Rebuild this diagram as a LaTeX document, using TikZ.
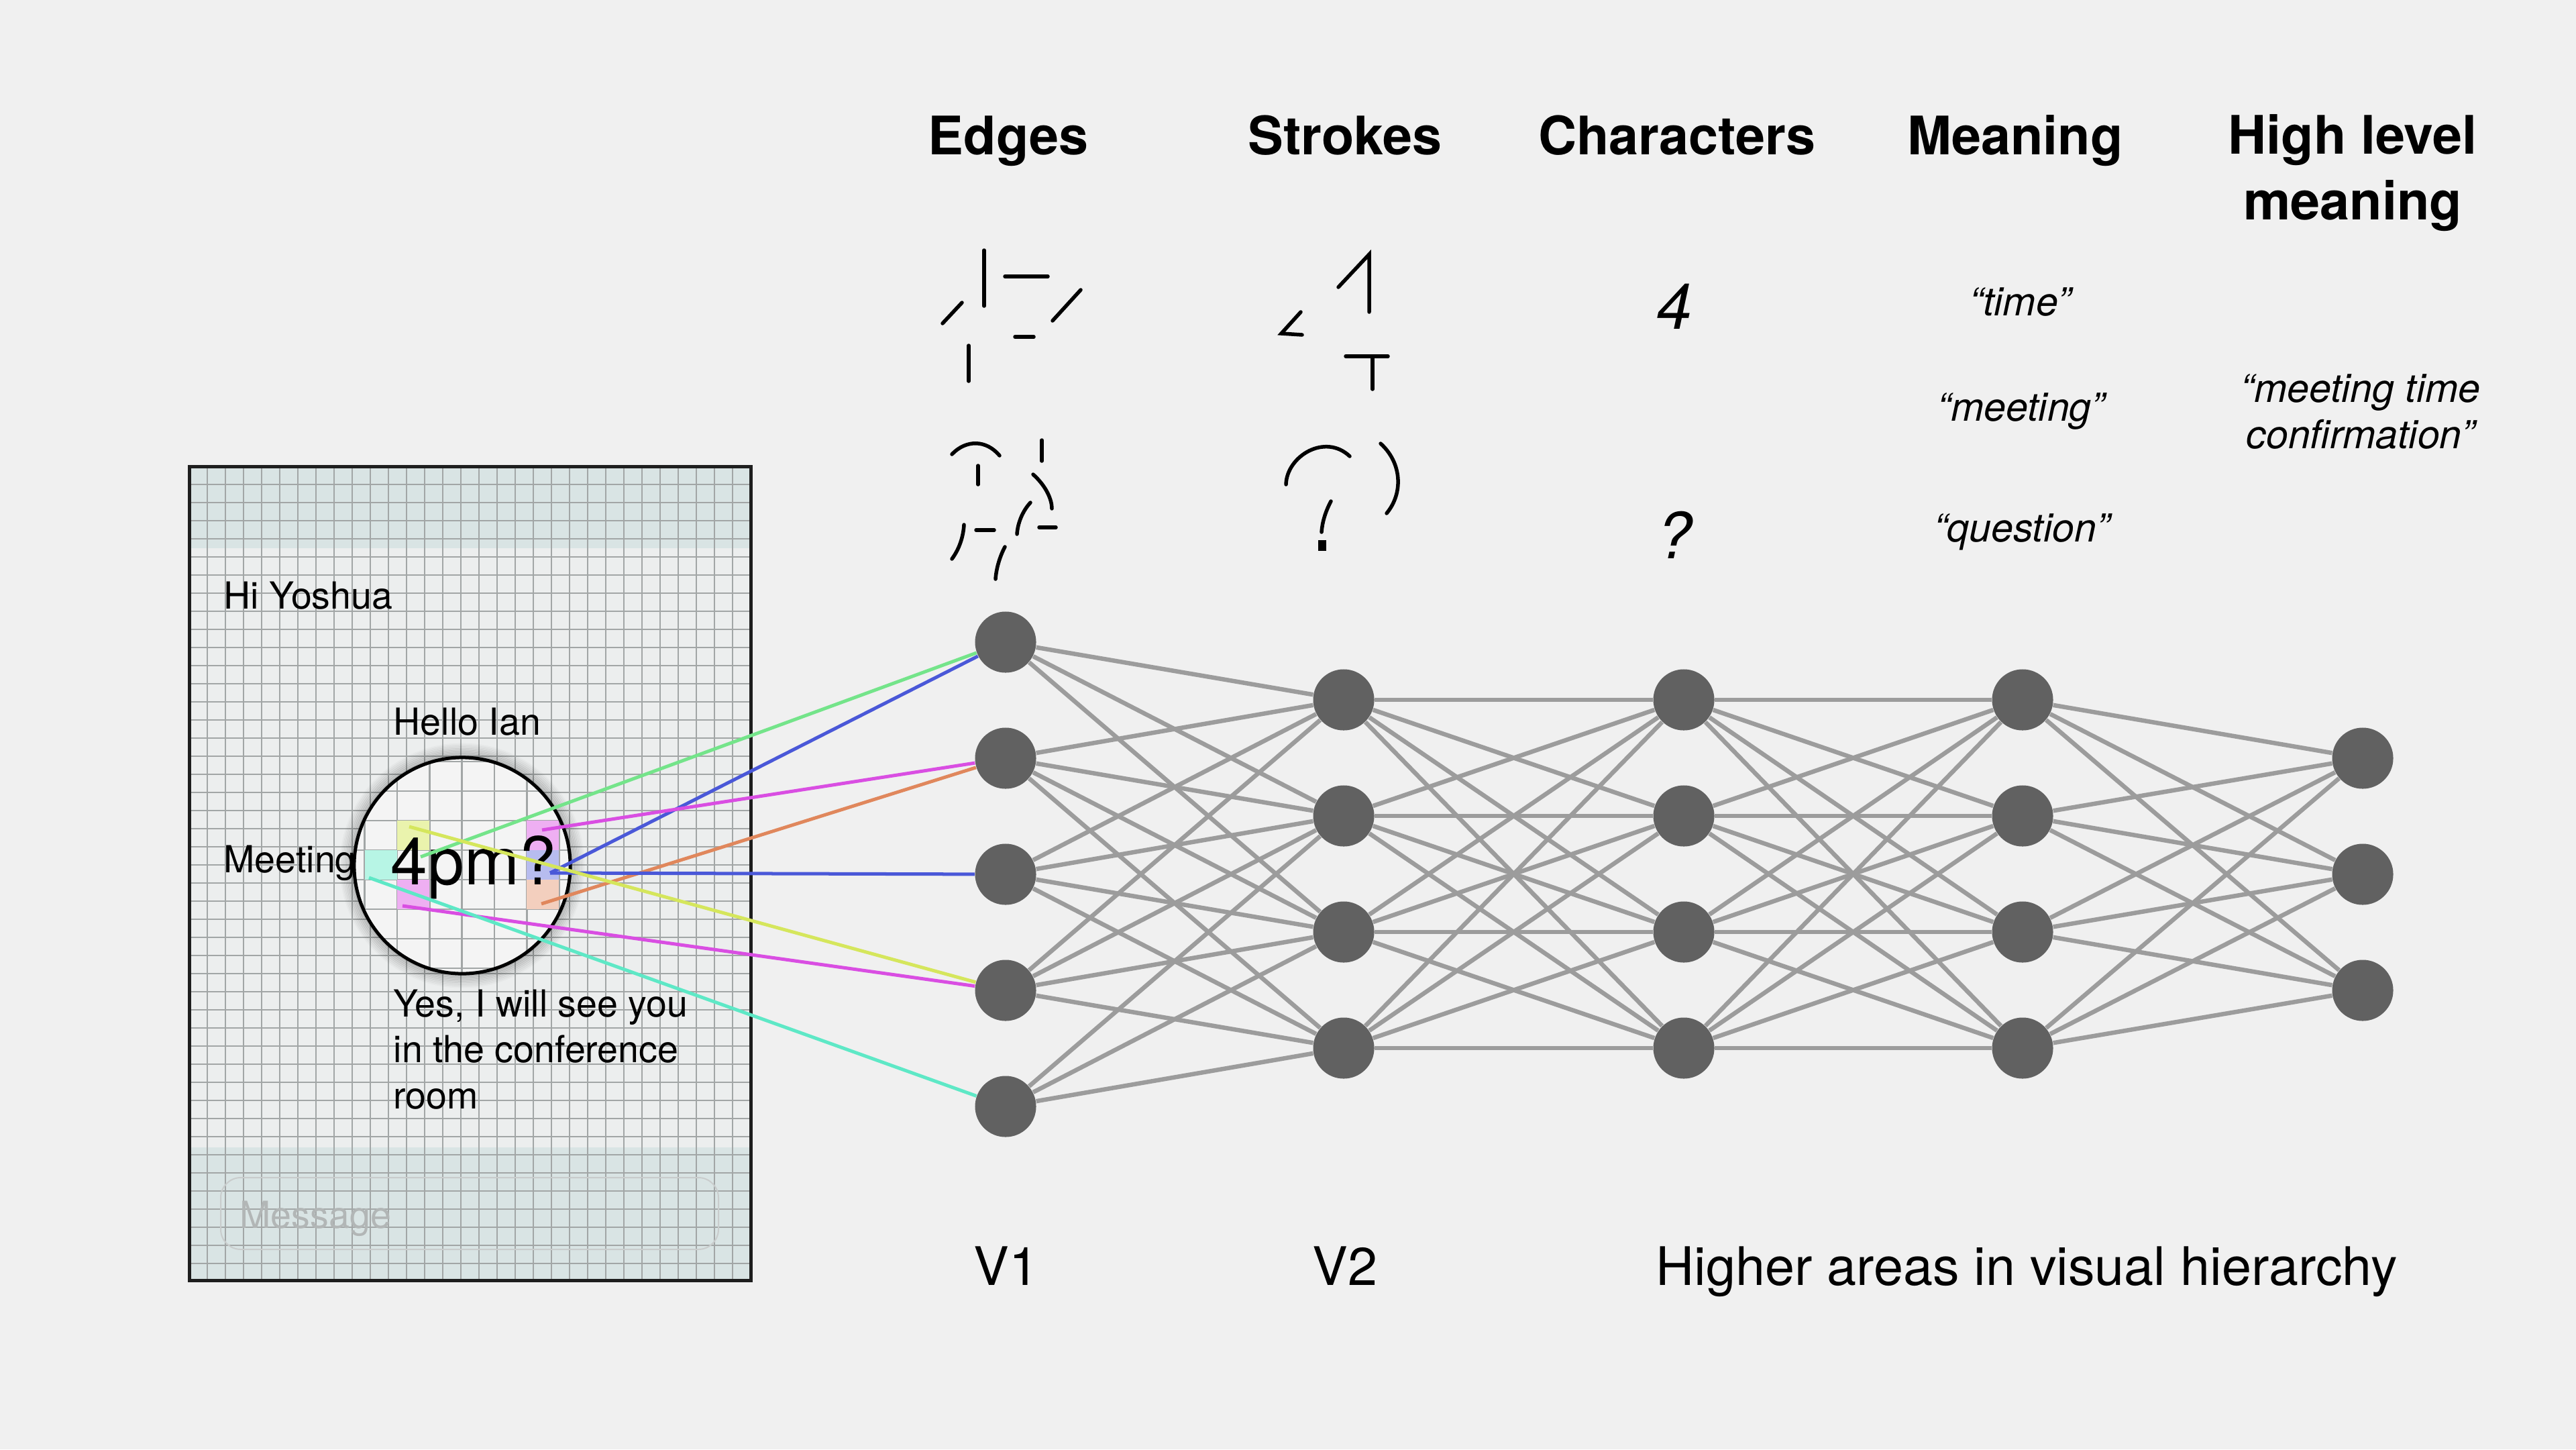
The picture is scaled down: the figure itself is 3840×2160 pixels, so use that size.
\documentclass[tikz,border=0pt]{standalone}
\usepackage{fontspec}
\setmainfont{TeX Gyre Heros}
\usetikzlibrary{positioning}

\definecolor{pagebg}{HTML}{F0F0F0}
\definecolor{neurongray}{HTML}{616161}
\definecolor{linkgray}{HTML}{9C9C9C}
\definecolor{screenbody}{HTML}{ECEEEE}
\definecolor{screenband}{HTML}{D9E4E4}
\definecolor{pixelgray}{HTML}{A2A6A6}
\definecolor{screenedge}{HTML}{1E1E1E}
\definecolor{msggray}{HTML}{B2B6B6}
\definecolor{lensfill}{HTML}{F4F4F4}
\definecolor{probegreen}{HTML}{74E48A}
\definecolor{probeblue}{HTML}{4A58D8}
\definecolor{probemagenta}{HTML}{D94EE2}
\definecolor{probeorange}{HTML}{E0875C}
\definecolor{probeyellow}{HTML}{D5E65C}
\definecolor{probecyan}{HTML}{5EE8C6}

\begin{document}
\begin{tikzpicture}[
        x=0.01cm, y=-0.01cm,
        neuron/.style={circle, fill=neurongray, minimum size=0.91cm, inner sep=0pt},
        link/.style={draw=linkgray, line width=0.065cm},
        probe/.style={line width=0.05cm},
        glyph/.style={line width=0.055cm, line cap=round},
        pixelline/.style={draw=pixelgray, line width=0.016cm},
        heading/.style={font=\bfseries\fontsize{22.5}{27.6}\selectfont, anchor=base, align=center},
        caption/.style={font=\fontsize{22.5}{27}\selectfont, anchor=base},
        concept/.style={font=\itshape\fontsize{16.8}{19.4}\selectfont, anchor=base, align=center},
        symbol/.style={font=\itshape\fontsize{27}{30}\selectfont, anchor=base},
        chat/.style={font=\fontsize{15.8}{19.35}\selectfont, anchor=base west, align=left, inner sep=0pt},
    ]

    % page
    \fill[pagebg] (0,0) rectangle (3840,2160);

    % phone screen with its pixel grid
    \fill[screenbody] (282,695) rectangle (1119,1908);
    \fill[screenband] (282,695) rectangle (1119,817);
    \fill[screenband] (282,1710) rectangle (1119,1908);
    \begin{scope}
        \clip (282,695) rectangle (1119,1908);
        \foreach \gx in {0,...,31}
            \draw[pixelline] (282+\gx*27,695) -- (282+\gx*27,1908);
        \foreach \gy in {0,...,45}
            \draw[pixelline] (282,695+\gy*27) -- (1119,695+\gy*27);
    \end{scope}
    \draw[screenedge, line width=0.05cm] (282,695) rectangle (1119,1908);

    % chat messages (base = last line)
    \node[chat] (hi) at (333,907) {Hi Yoshua};
    \node[chat] (hello) at (586,1095) {Hello Ian};
    \node[chat] (meet) at (333,1300) {Meeting};
    \node[chat] (reply) at (586,1652) {Yes, I will see you\\in the conference\\room};
    \draw[msggray!70, line width=0.02cm, rounded corners=0.3cm] (329,1755) rectangle (1071,1862);
    \node[chat, text=msggray] (msg) at (357,1830) {Message};

    % magnifying lens over "4pm?"
    \coordinate (lens) at (689,1290);
    \foreach \k in {1,...,8}
        \draw[black, opacity={0.2-0.022*\k}, line width=0.03cm] (lens) circle[radius={1.61cm+\k*0.025cm}];
    \begin{scope}
        \clip (lens) circle[radius=1.61cm];
        \fill[lensfill] (lens) circle[radius=1.61cm];
        \foreach \gx in {-3,...,5}
            \draw[pixelgray, line width=0.028cm] (592+\gx*48.3,1100) -- (592+\gx*48.3,1480);
        \foreach \gy in {-4,...,4}
            \draw[pixelgray, line width=0.028cm] (500,1267+\gy*44) -- (880,1267+\gy*44);
        % highlighted receptive fields
        \fill[probeyellow!50] (592,1223) rectangle (640,1267);
        \fill[probecyan!45] (544,1267) rectangle (592,1311);
        \fill[probemagenta!45] (592,1311) rectangle (640,1355);
        \fill[probemagenta!45] (785,1223) rectangle (833,1267);
        \fill[probeblue!40] (785,1267) rectangle (833,1311);
        \fill[probeorange!40] (785,1311) rectangle (833,1355);
        \node[font=\fontsize{28}{30}\selectfont, anchor=base] (pm) at (706,1318) {4pm?};
    \end{scope}
    \draw[line width=0.05cm] (lens) circle[radius=1.61cm];

    % network layers: column / x / rows
    \foreach \col/\xpos/\ylist in {1/1499/{957,1130,1303,1476,1649},
                                   2/2003/{1043,1216,1389,1562},
                                   3/2510/{1043,1216,1389,1562},
                                   4/3015/{1043,1216,1389,1562},
                                   5/3522/{1130,1303,1476}} {
        \foreach \ypos [count=\row] in \ylist {
            \node[neuron] (n\col-\row) at (\xpos,\ypos) {};
        }
    }

    % V1 -> V2 (outer corners not linked)
    \foreach \i in {1,...,5} {
        \foreach \j in {1,...,4} {
            \pgfmathtruncatemacro{\gap}{\i-\j}
            \ifnum\gap>-3 \ifnum\gap<4
                \draw[link] (n1-\i) -- (n2-\j);
            \fi\fi
        }
    }
    % V2 -> higher areas, fully linked
    \foreach \a/\b in {2/3, 3/4} {
        \foreach \i in {1,...,4} {
            \foreach \j in {1,...,4} {
                \draw[link] (n\a-\i) -- (n\b-\j);
            }
        }
    }
    \foreach \i in {1,...,4} {
        \foreach \j in {1,...,3} {
            \draw[link] (n4-\i) -- (n5-\j);
        }
    }

    % coloured probes from the lens to V1
    \coordinate (p-green) at (627,1277);
    \coordinate (p-blue) at (820,1301);
    \coordinate (p-magenta) at (808,1237);
    \coordinate (p-orange) at (807,1347);
    \coordinate (p-yellow) at (610,1232);
    \coordinate (p-pink) at (600,1350);
    \coordinate (p-cyan) at (550,1308);
    \draw[probe, probegreen] (p-green) -- (n1-1);
    \draw[probe, probeblue] (p-blue) -- (n1-1);
    \draw[probe, probemagenta] (p-magenta) -- (n1-2);
    \draw[probe, probeorange] (p-orange) -- (n1-2);
    \draw[probe, probeblue] (p-blue) -- (n1-3);
    \draw[probe, probeyellow] (p-yellow) -- (n1-4);
    \draw[probe, probemagenta] (p-pink) -- (n1-4);
    \draw[probe, probecyan] (p-cyan) -- (n1-5);

    % edge fragments of "4" and "?"
    \draw[glyph] (1467,373) -- (1467,456);
    \draw[glyph] (1498,412) -- (1562,412);
    \draw[glyph] (1405,482) -- (1434,451);
    \draw[glyph] (1569,478) -- (1611,432);
    \draw[glyph] (1513,502) -- (1541,502);
    \draw[glyph] (1444,515) -- (1444,568);
    \draw[glyph] (1419,677) .. controls (1440,655) and (1470,655) .. (1490,679);
    \draw[glyph] (1458,694) -- (1458,722);
    \draw[glyph] (1553,656) -- (1553,687);
    \draw[glyph] (1540,707) .. controls (1560,725) and (1568,745) .. (1568,758);
    \draw[glyph] (1536,749) .. controls (1524,762) and (1517,780) .. (1516,796);
    \draw[glyph] (1549,786) -- (1574,786);
    \draw[glyph] (1455,790) -- (1482,790);
    \draw[glyph] (1437,782) .. controls (1436,800) and (1430,818) .. (1419,833);
    \draw[glyph] (1498,815) .. controls (1490,830) and (1485,848) .. (1484,863);

    % strokes of "4" and "?"
    \draw[glyph] (1995,428) -- (2041,379) -- (2041,465);
    \draw[glyph] (1939,465) -- (1910,497) -- (1941,499);
    \draw[glyph] (2006,531) -- (2069,531);
    \draw[glyph] (2046,531) -- (2046,580);
    \draw[glyph] (1917,722) .. controls (1918,680) and (1975,645) .. (2012,680);
    \draw[glyph] (2058,661) .. controls (2090,690) and (2092,735) .. (2067,765);
    \draw[glyph] (1984,747) .. controls (1976,762) and (1971,778) .. (1970,793);
    \fill (1965,805) rectangle (1977,821);

    % characters
    \node[symbol] (four) at (2496,490) {4};
    \node[symbol] (qmark) at (2496,832) {?};

    % meanings (base = last line)
    \node[concept] (c-time) at (3012,470) {“time”};
    \node[concept] (c-meeting) at (3013,627) {“meeting”};
    \node[concept] (c-question) at (3014,807) {“question”};
    \node[concept] (c-high) at (3519,668) {“meeting time\\confirmation”};

    % column headings
    \node[heading] (h-edges) at (1503,230) {Edges};
    \node[heading] (h-strokes) at (2005,230) {Strokes};
    \node[heading] (h-chars) at (2500,230) {Characters};
    \node[heading] (h-meaning) at (3004,230) {Meaning};
    \node[heading] (h-high) at (3507,327) {High level\\meaning};

    % areas along the bottom
    \node[caption] (v1) at (1500,1915) {V1};
    \node[caption] (v2) at (2005,1915) {V2};
    \node[caption] (higher) at (3021,1915) {Higher areas in visual hierarchy};

\end{tikzpicture}
\end{document}
